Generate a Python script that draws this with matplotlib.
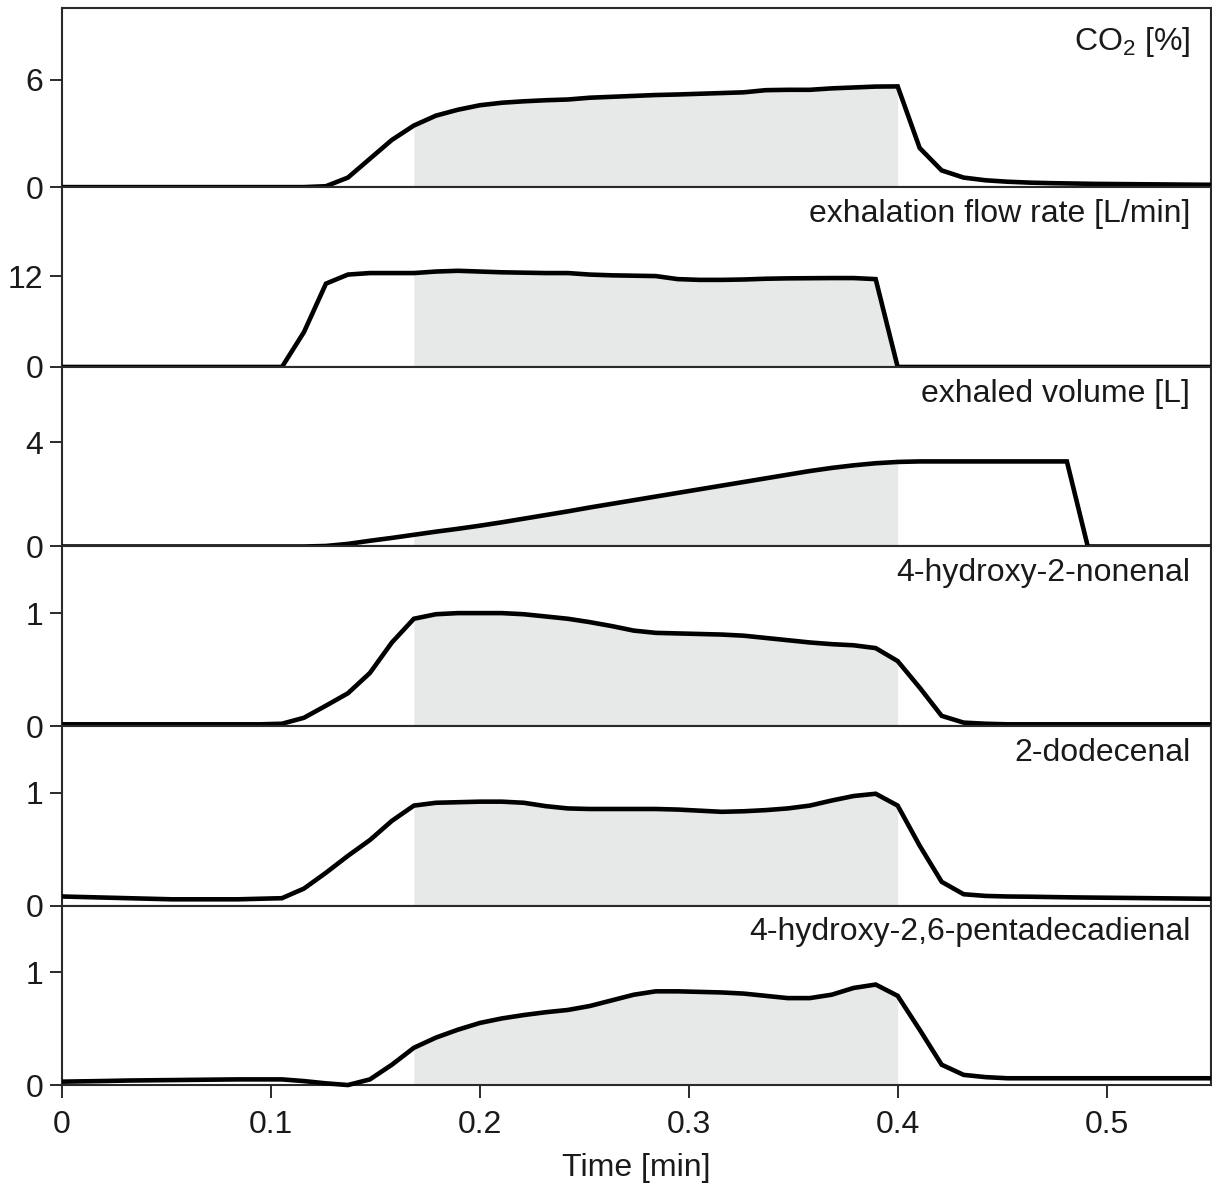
import numpy as np
import matplotlib
matplotlib.use("Agg")
import matplotlib.pyplot as plt

plt.rcParams["font.family"] = ["Liberation Sans", "DejaVu Sans"]
plt.rcParams["mathtext.fontset"] = "custom"
plt.rcParams["mathtext.rm"] = "Liberation Sans"
plt.rcParams["mathtext.it"] = "Liberation Sans:italic"

# Sampling grid of the breath recording (min)
time_min = np.append(np.arange(53) / 95, 0.55)

co2_pct = [0.02] * 12 + [
    0.07, 0.55, 1.6, 2.65, 3.45, 4.0, 4.33, 4.58, 4.72, 4.8, 4.86, 4.9, 5.0, 5.05,
    5.1, 5.15, 5.18, 5.22, 5.26, 5.3, 5.42, 5.44, 5.44, 5.52, 5.57, 5.62, 5.63,
    2.2, 0.95, 0.55, 0.4, 0.32, 0.27, 0.24, 0.22, 0.2, 0.19, 0.18, 0.17, 0.16, 0.15]

flow_lpm = [0.0] * 11 + [
    4.6, 11.0, 12.2, 12.4, 12.4, 12.4, 12.6, 12.7, 12.6, 12.5, 12.45, 12.4, 12.4,
    12.2, 12.1, 12.05, 12.0, 11.6, 11.5, 11.5, 11.55, 11.65, 11.7, 11.72, 11.74,
    11.74, 11.6, 0.0] + [0.0] * 14

volume_l = [0.0] * 12 + [
    0.02, 0.1, 0.22, 0.33, 0.45, 0.57, 0.68, 0.8, 0.93, 1.07, 1.21, 1.35, 1.5,
    1.64, 1.78, 1.92, 2.06, 2.2, 2.34, 2.48, 2.62, 2.76, 2.9, 3.02, 3.12, 3.2,
    3.25] + [3.27] * 7
# volume is held until the bag is emptied, then resets
volume_end_time = [0.481, 0.491, 0.55]
volume_end = [3.27, 0.0, 0.0]

hne = [0.015] * 10 + [
    0.02, 0.073, 0.18, 0.29, 0.47, 0.74, 0.95, 0.99, 1.0, 1.0, 1.0, 0.99, 0.97,
    0.95, 0.92, 0.885, 0.845, 0.825, 0.82, 0.815, 0.81, 0.8, 0.78, 0.76, 0.74,
    0.725, 0.715, 0.69, 0.575, 0.34, 0.09, 0.03, 0.02] + [0.015] * 10

dodecenal = [
    0.08, 0.075, 0.07, 0.065, 0.06, 0.055, 0.055, 0.055, 0.055, 0.06, 0.065,
    0.15, 0.29, 0.44, 0.58, 0.75, 0.885, 0.91, 0.915, 0.92, 0.92, 0.91, 0.88,
    0.86, 0.855, 0.855, 0.855, 0.855, 0.85, 0.84, 0.83, 0.835, 0.845, 0.86,
    0.885, 0.93, 0.97, 0.99, 0.885, 0.53, 0.21, 0.1, 0.085, 0.08, 0.078, 0.075,
    0.072, 0.07, 0.068, 0.066, 0.064, 0.062, 0.06]

pentadecadienal = [
    0.03, 0.033, 0.036, 0.04, 0.042, 0.044, 0.046, 0.048, 0.05, 0.05, 0.05,
    0.035, 0.015, 0.0, 0.05, 0.18, 0.33, 0.42, 0.49, 0.55, 0.59, 0.62, 0.645,
    0.665, 0.70, 0.75, 0.80, 0.83, 0.83, 0.825, 0.82, 0.81, 0.79, 0.77, 0.77,
    0.80, 0.86, 0.89, 0.79, 0.49, 0.18, 0.09, 0.07, 0.06] + [0.06] * 9

titles = [r"CO$_2$ [%]", "exhalation flow rate [L/min]", "exhaled volume [L]",
          "4-hydroxy-2-nonenal", "2-dodecenal", "4-hydroxy-2,6-pentadecadienal"]
y_ticks = [[0, 6], [0, 12], [0, 4], [0, 1], [0, 1], [0, 1]]
y_tops = [10, 23.7, 6.9, 1.59, 1.59, 1.59]
x_ticks = [0, 0.1, 0.2, 0.3, 0.4, 0.5]
x_tick_labels = ["0", "0.1", "0.2", "0.3", "0.4", "0.5"]

SHADE_START, SHADE_END = 0.168, 0.4

def extend(values):
    return np.append(values, values[-1])

series = [
    (time_min, extend(co2_pct)),
    (time_min, extend(flow_lpm)),
    (np.concatenate([time_min[:46], volume_end_time]),
     np.concatenate([volume_l, volume_end])),
    (time_min, extend(hne)),
    (time_min, extend(dodecenal)),
    (time_min, extend(pentadecadienal)),
]

FS = 23
SPINE = "#2a2a2a"
fig = plt.figure(figsize=(12.12, 11.87), dpi=100)
gs = fig.add_gridspec(6, 1, left=0.0512, right=0.9992, top=0.9933,
                      bottom=0.0859, hspace=0)

axes = []
for k, (t, v) in enumerate(series):
    ax = fig.add_subplot(gs[k], sharex=axes[0] if axes else None)
    axes.append(ax)
    t = np.asarray(t, dtype=float)
    v = np.asarray(v, dtype=float)
    ax.fill_between(t, 0, v, where=(t >= SHADE_START) & (t <= SHADE_END),
                    color="#e6e9e8", lw=0, zorder=1)
    ax.plot(t, v, color="black", lw=3.3, solid_joinstyle="miter",
            solid_capstyle="butt", clip_on=False, zorder=3)
    ax.set_ylim(0, y_tops[k])
    ax.set_yticks(y_ticks[k])
    ax.set_yticklabels([str(y) for y in y_ticks[k]])
    for sp in ax.spines.values():
        sp.set_color(SPINE)
        sp.set_linewidth(1.5)
    ax.tick_params(axis="y", direction="out", length=8.5, width=1.4,
                   colors=SPINE, labelcolor="#1a1a1a", labelsize=FS, pad=5)
    offset_y = -30 if k == 0 else -25
    ax.annotate(titles[k], xy=(1, 1), xycoords="axes fraction",
                xytext=(-15, offset_y), textcoords="offset points",
                ha="right", va="baseline", fontsize=FS, color="#1a1a1a")
    if k < 5:
        ax.tick_params(axis="x", bottom=False, labelbottom=False)

ax = axes[-1]
ax.set_xlim(0, 0.55)
ax.set_xticks(x_ticks)
ax.set_xticklabels(x_tick_labels)
ax.tick_params(axis="x", direction="out", length=9, width=1.4, colors=SPINE,
               labelcolor="#1a1a1a", labelsize=FS, pad=9)
ax.set_xlabel("Time [min]", fontsize=FS, color="#1a1a1a", labelpad=9)

fig.savefig("out.png", dpi=100)
